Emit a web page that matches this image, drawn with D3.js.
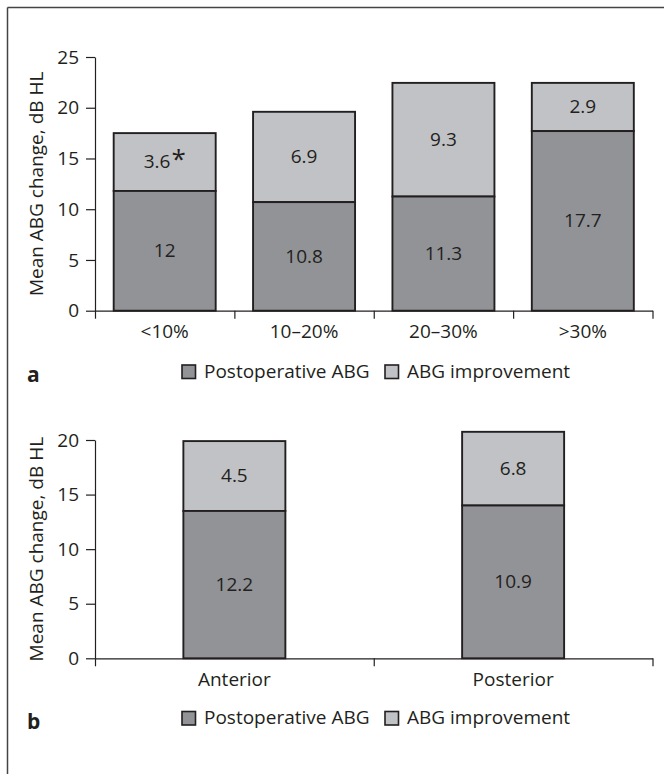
<!DOCTYPE html>
<html>
<head>
<meta charset="utf-8">
<script src="https://cdn.jsdelivr.net/npm/d3@7"></script>
<style>
  html, body { margin: 0; padding: 0; background: #fff; }
  svg { display: block; }
  text { font-family: "Open Sans", "Noto Sans", sans-serif; fill: #231f20; }
</style>
</head>
<body>
<svg id="chart" width="664" height="774"></svg>
<script>
// ---- Data (panel a) ----
const categoriesA = ["<10%", "10–20%", "20–30%", ">30%"];
const postopA = [11.8, 10.7, 11.25, 17.7];          // postoperative ABG segment heights
const improveA = [5.7, 8.9, 11.2, 4.75];            // ABG improvement segment heights
const postopLabelsA = ["12", "10.8", "11.3", "17.7"];
const improveLabelsA = ["3.6", "6.9", "9.3", "2.9"];
const starA = [true, false, false, false];
const yTicksA = [0, 5, 10, 15, 20, 25];

// ---- Data (panel b) ----
const categoriesB = ["Anterior", "Posterior"];
const postopB = [13.5, 14.0];
const improveB = [6.4, 6.75];
const postopLabelsB = ["12.2", "10.9"];
const improveLabelsB = ["4.5", "6.8"];
const starB = [false, false];
const yTicksB = [0, 5, 10, 15, 20];

const legendLabels = ["Postoperative ABG", "ABG improvement"];
const yTitle = "Mean ABG change, dB HL";

const DARK = "#929397";
const LIGHT = "#c1c2c5";
const INK = "#231f20";
const FS = 19;

const svg = d3.select("#chart");

// frame (top and left rules)
svg.append("line").attr("x1", 7.5).attr("x2", 664).attr("y1", 7.5).attr("y2", 7.5)
  .attr("stroke", "#444").attr("stroke-width", 1.5);
svg.append("line").attr("x1", 7.5).attr("x2", 7.5).attr("y1", 7.5).attr("y2", 774)
  .attr("stroke", "#444").attr("stroke-width", 1.5);

function panel(opts) {
  const { cats, postop, improve, pLabels, iLabels, stars, ticks, yMax, y0, yTop, letter, legendY, letterY } = opts;
  const x0 = 95, x1 = 652.5, barW = 102;
  const g = svg.append("g");
  const y = d3.scaleLinear().domain([0, yMax]).range([y0, yTop]);
  const step = (x1 - x0) / cats.length;
  const pad = 1 - barW / step;
  const x = d3.scaleBand().domain(cats).range([x0, x1]).paddingInner(pad).paddingOuter(pad / 2);

  // bars
  const data = cats.map((c, i) => ({ c, p: postop[i], v: improve[i], pl: pLabels[i], il: iLabels[i], star: stars[i] }));
  const bars = g.selectAll("g.bar").data(data).join("g").attr("class", "bar");
  bars.append("rect")
    .attr("x", d => x(d.c)).attr("width", x.bandwidth())
    .attr("y", d => y(d.p + d.v)).attr("height", d => y(d.p) - y(d.p + d.v))
    .attr("fill", LIGHT).attr("stroke", INK).attr("stroke-width", 1.9);
  bars.append("rect")
    .attr("x", d => x(d.c)).attr("width", x.bandwidth())
    .attr("y", d => y(d.p)).attr("height", d => y(0) - y(d.p))
    .attr("fill", DARK).attr("stroke", INK).attr("stroke-width", 1.9);

  // value labels
  bars.append("text")
    .attr("x", d => x(d.c) + x.bandwidth() / 2)
    .attr("y", d => (y(0) + y(d.p)) / 2)
    .attr("dy", "0.33em").attr("text-anchor", "middle")
    .attr("font-size", FS)
    .text(d => d.pl);
  const it = bars.append("text")
    .attr("x", d => x(d.c) + x.bandwidth() / 2)
    .attr("y", d => (y(d.p) + y(d.p + d.v)) / 2)
    .attr("dy", "0.33em").attr("text-anchor", "middle")
    .attr("font-size", FS);
  it.append("tspan").text(d => d.il);
  it.filter(d => d.star).append("tspan")
    .attr("font-size", 26).attr("dx", "1")
    .text("*");

  // y axis
  const yAxis = d3.axisLeft(y).tickValues(ticks).tickSize(9).tickSizeOuter(0).tickPadding(7);
  const ya = g.append("g").attr("transform", `translate(${x0},0)`).call(yAxis);
  ya.selectAll("path, line").attr("stroke", INK).attr("stroke-width", 1.2);
  ya.selectAll("text").attr("font-size", FS).attr("font-family", "Open Sans, sans-serif").attr("fill", INK);

  // x axis: boundary ticks
  const xb = d3.scaleLinear().domain([0, cats.length]).range([x0, x1]);
  const xAxis = d3.axisBottom(xb).tickValues(d3.range(cats.length + 1)).tickSize(8).tickSizeOuter(0).tickFormat("");
  const xa = g.append("g").attr("transform", `translate(0,${y(0)})`).call(xAxis);
  xa.selectAll("path, line").attr("stroke", INK).attr("stroke-width", 1.2);

  // category labels
  g.selectAll("text.cat").data(cats).join("text").attr("class", "cat")
    .attr("x", d => x(d) + x.bandwidth() / 2)
    .attr("y", y(0) + 27.5)
    .attr("text-anchor", "middle").attr("font-size", FS)
    .text(d => d);

  // y title
  g.append("text")
    .attr("transform", `translate(43,${(y(0) + y(yMax)) / 2}) rotate(-90)`)
    .attr("text-anchor", "middle").attr("font-size", FS)
    .text(yTitle);

  // panel letter
  g.append("text").attr("x", 27).attr("y", letterY)
    .attr("font-size", 21).attr("font-weight", "bold").text(letter);

  // legend
  const lx = [182, 385];
  const lc = [DARK, LIGHT];
  legendLabels.forEach((l, i) => {
    g.append("rect").attr("x", lx[i]).attr("y", legendY - 12.5).attr("width", 13.5).attr("height", 13.5)
      .attr("fill", lc[i]).attr("stroke", INK).attr("stroke-width", 1.6);
    g.append("text").attr("x", lx[i] + 22).attr("y", legendY)
      .attr("font-size", FS).text(l);
  });
}

panel({ cats: categoriesA, postop: postopA, improve: improveA, pLabels: postopLabelsA, iLabels: improveLabelsA,
  stars: starA, ticks: yTicksA, yMax: 25, y0: 310.7, yTop: 57, letter: "a", legendY: 377.5, letterY: 382 });
panel({ cats: categoriesB, postop: postopB, improve: improveB, pLabels: postopLabelsB, iLabels: improveLabelsB,
  stars: starB, ticks: yTicksB, yMax: 20, y0: 658.3, yTop: 440, letter: "b", legendY: 724, letterY: 729 });
</script>
</body>
</html>
